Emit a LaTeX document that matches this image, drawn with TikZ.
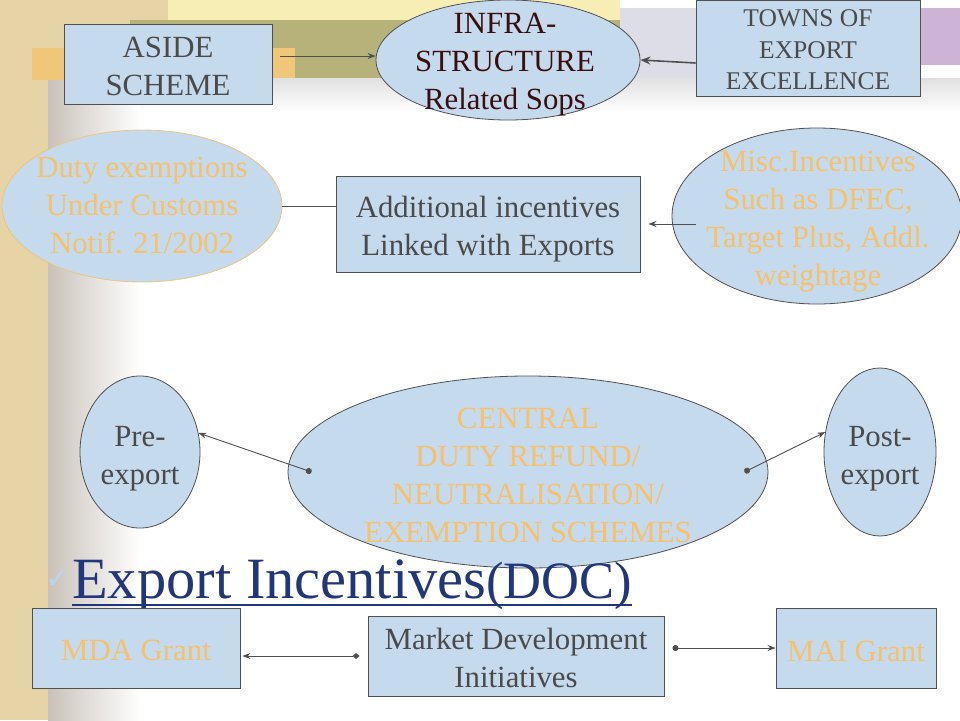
\documentclass[tikz,border=0pt]{standalone}
\usepackage{fontspec}
\setmainfont{Liberation Serif}
\newfontfamily\symfont{DejaVu Sans}
\usetikzlibrary{shapes.geometric,arrows.meta}
\definecolor{boxblue}{HTML}{C6DAEE}
\definecolor{edgegray}{HTML}{505050}
\definecolor{txtgray}{HTML}{4A4A4A}
\definecolor{txtorange}{HTML}{F5C16C}
\definecolor{darkmaroon}{HTML}{3A0E0E}
\definecolor{navyblue}{HTML}{22367A}
\definecolor{checkblue}{HTML}{BCD5EE}
\definecolor{beige}{HTML}{E6D3A6}
\definecolor{bandorange}{HTML}{F0C679}
\definecolor{bandolive}{HTML}{B7B27A}
\definecolor{bandyellow}{HTML}{F7EEB5}
\definecolor{bandpurple}{HTML}{CDB3D6}
\definecolor{bandpale}{HTML}{DCDDE6}
\definecolor{shadowgray}{HTML}{C9C2BA}
\definecolor{dutyedge}{HTML}{EEC484}
\newcommand\mainsize{\fontsize{30.8}{38}\selectfont}
\newcommand\townsize{\fontsize{25.5}{31.5}\selectfont}
\begin{document}
\begin{tikzpicture}[x=1pt,y=-1pt,
  boxnode/.style={draw=edgegray, fill=boxblue, line width=0.9pt, inner sep=0pt},
  ellnode/.style={ellipse, draw=edgegray, fill=boxblue, line width=0.8pt, inner sep=0pt},
  txtnode/.style={inner sep=0pt, align=center, font=\mainsize, text=txtgray},
  conn/.style={draw=edgegray, line width=0.9pt},
  tip/.style={-{Stealth[length=8pt,width=6pt]}}
]
% background
\useasboundingbox (0,0) rectangle (960,720);
\fill[white] (0,0) rectangle (960,720);
\fill[beige] (0,0) rectangle (48,720);
\fill[beige] (0,0) rectangle (168,48);
\shade[left color=shadowgray, right color=white] (48,80) rectangle (140,720);
\fill[bandyellow] (168,0) rectangle (620,20);
\fill[bandolive] (130,20) rectangle (625,78);
\fill[bandpale] (620,8) rectangle (700,78);
\fill[bandpurple] (920,8) rectangle (960,65);
\fill[bandorange] (32,48) rectangle (295,80);
\shade[top color=black!12, bottom color=white] (140,78) rectangle (960,112);

% top row
\node[boxnode, minimum width=208pt, minimum height=80pt] (aside) at (168,64) {};
\node[txtnode] (asideT) at (168,66) {ASIDE\\SCHEME};
\node[ellnode, minimum width=264pt, minimum height=120pt] (infra) at (508,60) {};
\node[txtnode, text=darkmaroon] (infraT) at (505,65) {INFRA-\\STRUCTURE\\Related Sops};
\node[boxnode, minimum width=224pt, minimum height=96pt] (towns) at (808,48) {};
\node[txtnode, font=\townsize] (townsT) at (808,50) {TOWNS OF\\EXPORT\\EXCELLENCE};

% second row
\node[ellnode, draw=dutyedge, minimum width=280pt, minimum height=152pt] (duty) at (142,206) {};
\node[txtnode, text=txtorange] (dutyT) at (142,206) {Duty exemptions\\Under Customs\\Notif. 21/2002};
\node[boxnode, minimum width=304pt, minimum height=96pt] (addl) at (488,224) {};
\node[txtnode] (addlT) at (488,229) {Additional incentives\\Linked with Exports};
\node[ellnode, minimum width=290pt, minimum height=176pt] (misc) at (817,216) {};
\node[txtnode, text=txtorange] (miscT) at (818,221.5) {Misc.Incentives\\Such as DFEC,\\Target Plus, Addl.\\weightage};

% third row
\node[ellnode, minimum width=120pt, minimum height=152pt] (pre) at (140,452) {};
\node[txtnode] (preT) at (140,458.5) {Pre-\\export};
\node[ellnode, minimum width=480pt, minimum height=192pt] (central) at (528,472) {};
\node[txtnode, text=txtorange] (centralT) at (528,475) {CENTRAL\\DUTY REFUND/\\NEUTRALISATION/\\EXEMPTION SCHEMES};
\node[ellnode, minimum width=112pt, minimum height=168pt] (post) at (880,452) {};
\node[txtnode] (postT) at (880,458.5) {Post-\\export};

% title
\node[inner sep=0pt, text=checkblue, font=\symfont\fontsize{30}{30}\selectfont] (check) at (58,579) {✓};
\node[anchor=base west, inner sep=0pt, text=navyblue] (title) at (72,598)
  {\fontsize{58.5}{60}\selectfont Export Incentives\fontsize{52.5}{56}\selectfont(DOC)};
\draw[navyblue, line width=2.5pt] ([yshift=-7pt]title.base west) -- ([yshift=-7pt]title.base east);

% bottom row
\node[boxnode, minimum width=208pt, minimum height=80pt] (mda) at (136,648) {};
\node[txtnode, text=txtorange] (mdaT) at (136,650.5) {MDA Grant};
\node[boxnode, minimum width=296pt, minimum height=80pt] (mkt) at (516,656) {};
\node[txtnode] (mktT) at (516,657.5) {Market Development\\Initiatives};
\node[boxnode, minimum width=160pt, minimum height=80pt] (mai) at (856,648) {};
\node[txtnode, text=txtorange] (maiT) at (856,651) {MAI Grant};

% connectors
\coordinate (a1) at ([xshift=8pt,yshift=8pt]aside.east);
\draw[conn,tip] (a1) -- (a1 -| infra.west);
\draw[conn,line width=1.6pt,-{Stealth[length=10pt,width=8pt]}] ([yshift=-15pt]towns.west) -- (infra.east);
\draw[conn] (duty.east) -- (duty.east -| addl.west);
\coordinate (m1) at ([xshift=24pt,yshift=-8pt]misc.west);
\draw[conn,tip] (m1) -- ([xshift=8pt]addl.east);
\coordinate (c1) at ([xshift=24pt]central.west);
\coordinate (c2) at ([xshift=-24pt]central.east);
\draw[conn,{Circle[length=6pt]}-{Stealth[length=8pt,width=6pt]}] (c1) -- (pre.18);
\draw[conn,{Circle[length=6pt]}-{Stealth[length=8pt,width=6pt]}] (c2) -- (post.160);
\coordinate (k1) at ([xshift=-8pt]mkt.west);
\coordinate (k2) at (k1 -| mda.east);
\draw[conn,{Diamond[length=7pt,width=6pt]}-{Stealth[length=8pt,width=6pt]}] (k1) -- ([xshift=2pt]k2);
\coordinate (k3) at ([xshift=8pt,yshift=8pt]mkt.east);
\draw[conn,{Circle[length=6pt]}-{Stealth[length=8pt,width=6pt]}] (k3) -- (k3 -| mai.west);
\end{tikzpicture}
\end{document}
